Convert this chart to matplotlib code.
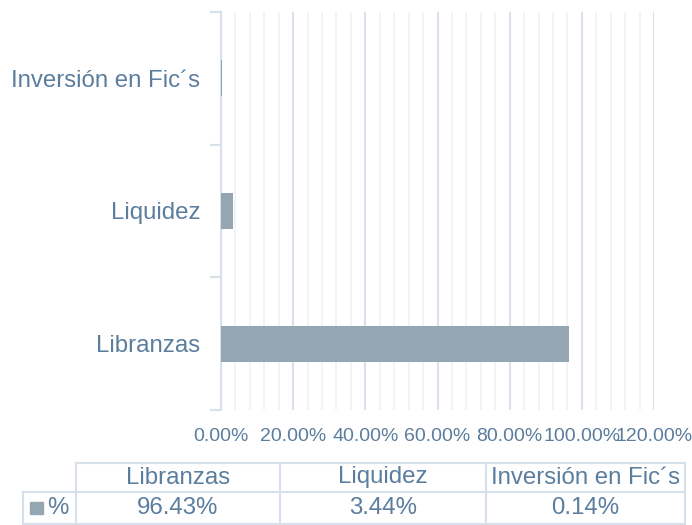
import matplotlib
matplotlib.use("Agg")
import matplotlib.pyplot as plt
from matplotlib.lines import Line2D
from matplotlib.patches import Rectangle
import numpy as np

categories = ["Libranzas", "Liquidez", "Inversión en Fic´s"]
values = [96.43, 3.44, 0.14]
value_labels = ["96.43%", "3.44%", "0.14%"]
series_name = "%"
xticks = [0, 20, 40, 60, 80, 100, 120]
xtick_labels = ["0.00%", "20.00%", "40.00%", "60.00%", "80.00%", "100.00%", "120.00%"]

plt.rcParams['font.family'] = ['Liberation Sans', 'DejaVu Sans']
TXT = "#5b7d9e"
BAR = "#94a6b2"
GRID_MAJ = "#d9e2ec"
GRID_MIN = "#eef2f7"

W, H = 692, 525
fig = plt.figure(figsize=(W / 100, H / 100), dpi=100)
ax = fig.add_axes([221 / W, 1 - 410 / H, (654 - 221) / W, (410 - 12) / H])

y = np.arange(len(categories))
ax.barh(y, values, height=0.27, color=BAR, zorder=3)
ax.set_xlim(0, 120)
ax.set_ylim(-0.5, len(categories) - 0.5)

ax.set_xticks(xticks)
ax.set_xticklabels(xtick_labels, fontsize=14, color=TXT)
ax.set_xticks(np.arange(0, 121, 4), minor=True)
ax.grid(axis='x', which='major', color=GRID_MAJ, linewidth=1.5, zorder=0)
ax.grid(axis='x', which='minor', color=GRID_MIN, linewidth=1.2, zorder=0)
ax.tick_params(axis='x', which='both', length=0, pad=13)

ax.set_yticks(np.arange(-0.5, len(categories), 1.0))
ax.set_yticklabels([])
ax.set_yticks(y, minor=True)
ax.set_yticklabels(categories, minor=True, fontsize=17.3, color=TXT)
ax.tick_params(axis='y', which='major', length=8, width=1.5, color=GRID_MAJ)
ax.tick_params(axis='y', which='minor', length=0, pad=15)

for s in ['top', 'right', 'bottom']:
    ax.spines[s].set_visible(False)
ax.spines['left'].set_color(GRID_MAJ)
ax.spines['left'].set_linewidth(1.5)

# data table
def fx(px):
    return px / W

def fy(py):
    return 1 - py / H

LC = "#d6e0ea"
col_edges = [76, 280, 486, 685]
row_top, row_mid, row_bot = 463, 492, 524
lw = 1.5
fig.add_artist(Line2D([fx(76), fx(685)], [fy(row_top)] * 2, color=LC, lw=lw))
fig.add_artist(Line2D([fx(23), fx(685)], [fy(row_mid)] * 2, color=LC, lw=lw))
fig.add_artist(Line2D([fx(23), fx(685)], [fy(row_bot)] * 2, color=LC, lw=lw))
for cx in col_edges:
    fig.add_artist(Line2D([fx(cx)] * 2, [fy(row_top), fy(row_bot)], color=LC, lw=lw))
fig.add_artist(Line2D([fx(23)] * 2, [fy(row_mid), fy(row_bot)], color=LC, lw=lw))

for i, cat in enumerate(categories):
    cx = (col_edges[i] + col_edges[i + 1]) / 2
    fig.text(fx(cx), fy((row_top + row_mid) / 2), cat, ha='center', va='center',
             fontsize=17.3, color=TXT)
    fig.text(fx(cx), fy((row_mid + row_bot) / 2), value_labels[i], ha='center', va='center',
             fontsize=17.3, color=TXT)

fig.add_artist(Rectangle((fx(30), fy(514)), fx(13), 12 / H, color=BAR, transform=fig.transFigure))
fig.text(fx(47), fy((row_mid + row_bot) / 2), series_name, ha='left', va='center',
         fontsize=17.3, color=TXT)

fig.savefig("out.png", dpi=100)
